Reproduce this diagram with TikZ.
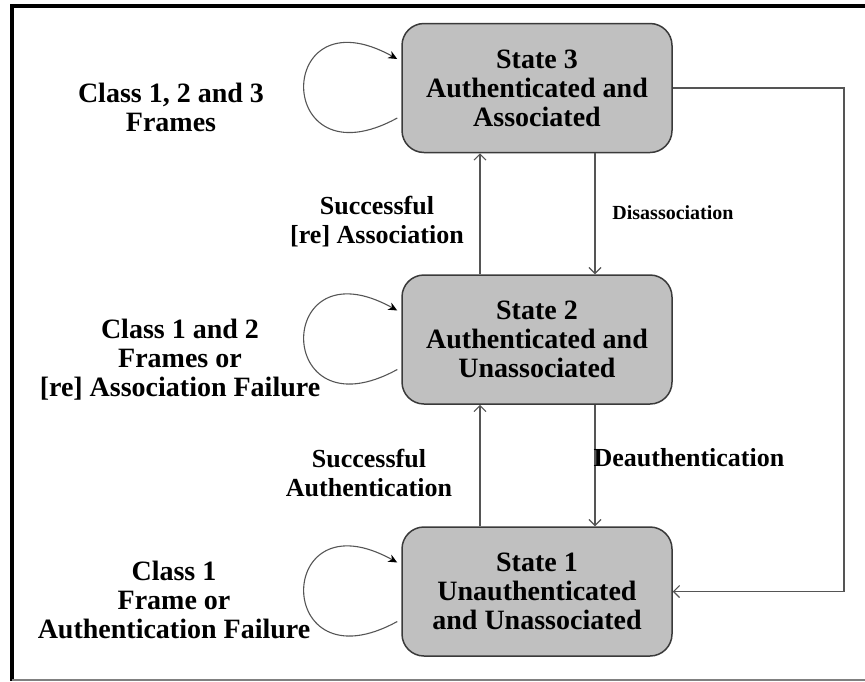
\documentclass[tikz,border=0pt]{standalone}
\usepackage{fontspec}
\setmainfont{Liberation Serif}
\usetikzlibrary{arrows.meta,calc}
\definecolor{boxfill}{HTML}{C0C0C0}
\definecolor{boxedge}{HTML}{3A3A3A}
\definecolor{linegray}{HTML}{555555}
\begin{document}
\begin{tikzpicture}[x=1pt,y=-1pt,
  state/.style={draw=boxedge, line width=1.5pt, fill=boxfill, rounded corners=22pt,
    minimum width=270pt, minimum height=129pt, inner sep=0pt, align=center,
    font=\fontsize{28}{29}\selectfont\bfseries},
  lbl/.style={align=center, inner sep=0pt, font=\fontsize{28}{29}\selectfont\bfseries},
  midlbl/.style={align=center, inner sep=0pt, font=\fontsize{26}{29}\selectfont\bfseries},
  conn/.style={draw=linegray, line width=1.1pt, -{Straight Barb[length=6pt,width=12pt]}},
  selfloop/.style={draw=linegray, line width=1.1pt, -{Stealth[length=9pt,width=8pt,color=black]}}
]
\useasboundingbox (0,0) rectangle (865,681);

% outer frame
\draw[line width=4pt, black] (10,6) -- (865,6);
\draw[line width=4pt, black] (12,4) -- (12,681);
\draw[line width=1.5pt, gray] (12,680) -- (865,680);

% states
\node[state] (s3) at (537,88)    {State 3\\Authenticated and\\Associated};
\node[state] (s2) at (537,339.5) {State 2\\Authenticated and\\Unassociated};
\node[state] (s1) at (537,591.5) {State 1\\Unauthenticated\\and Unassociated};

% columns of the vertical transitions
\coordinate (upx) at (480,0);
\coordinate (dnx) at (595,0);
\coordinate (rt)  at (844,88);

\draw[conn] (s2.north -| upx) -- (s3.south -| upx);
\draw[conn] (s3.south -| dnx) -- (s2.north -| dnx);
\draw[conn] (s1.north -| upx) -- (s2.south -| upx);
\draw[conn] (s2.south -| dnx) -- (s1.north -| dnx);
\draw[conn] (s3.east) -- (rt) |- (s1.east);

% self loops
\foreach \s in {s3,s2,s1}{
  \draw[selfloop] ($(\s.west)+(-4,30)$) .. controls ($(\s.west)+(-128,98)$) and ($(\s.west)+(-128,-98)$) .. ($(\s.west)+(-4,-29)$);
}

% labels
\node[lbl] (l3) at (171,107.5) {Class 1, 2 and 3\\Frames};
\node[lbl] (l2) at (180,360) {Class 1 and 2\\Frames or\\{[re]} Association Failure};
\node[lbl] (l1) at (174,600) {Class 1\\Frame or\\Authentication Failure};

\node[midlbl] (assoc) at (377,222) {Successful\\{[re]} Association};
\node[align=center, inner sep=0pt, font=\fontsize{20}{24}\selectfont\bfseries] (disassoc) at (673,213) {Disassociation};
\node[midlbl] (auth) at (369,472.5) {Successful\\Authentication};
\node[midlbl] (deauth) at (689,458) {Deauthentication};
\end{tikzpicture}
\end{document}
